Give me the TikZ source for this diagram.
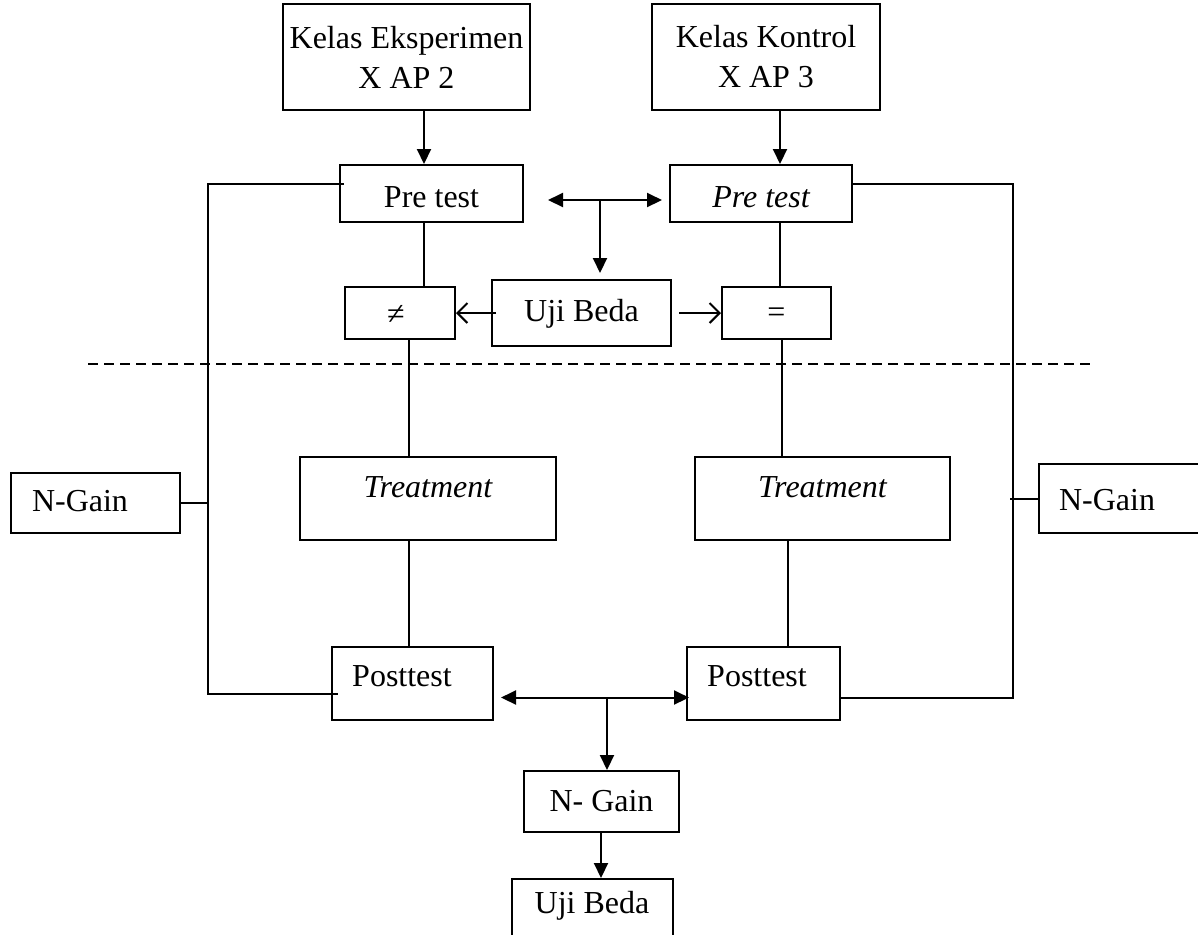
\documentclass[tikz,border=0pt]{standalone}
\usepackage{fontspec}
\setmainfont{Liberation Serif}
\usetikzlibrary{arrows.meta,fit,calc}
\begin{document}
\begin{tikzpicture}[x=0.5pt,y=-0.5pt,
  every node/.style={font=\fontsize{16}{20}\selectfont},
  box/.style={draw,line width=1pt,inner sep=0pt,rectangle},
  ln/.style={line width=1pt},
  arr/.style={line width=1pt,-{Triangle[length=7.5pt,width=7pt]}},
  darr/.style={line width=1pt,{Triangle[length=7.5pt,width=7pt]}-{Triangle[length=7.5pt,width=7pt]}},
  oarr/.style={line width=1pt,-{Straight Barb[length=5pt,width=10pt]}},
  txt/.style={inner sep=0pt,align=center}]
\useasboundingbox (0,0) rectangle (1198,934);
% top boxes
\node[box,fit={(283,4)(530,110)}] (ke) {};
\node[txt] (ket) at (ke.center) {Kelas Eksperimen\\X AP 2};
\node[box,fit={(652,4)(880,110)}] (kk) {};
\node[txt] (kkt) at (kk.center) {Kelas Kontrol\\X AP 3};
% pre tests
\node[box,fit={(340,165)(523,222)}] (ptl) {};
\node[txt] (ptlt) at ($(ptl.center)+(0,4)$) {Pre test};
\node[box,fit={(670,165)(852,222)}] (ptr) {};
\node[txt] (ptrt) at ($(ptr.center)+(0,4)$) {\itshape Pre test};
% uji beda middle
\node[box,fit={(492,280)(671,346)}] (ub) {};
\node[txt] (ubt) at ($(ub.center)+(0,1)$) {Uji Beda};
\node[box,fit={(345,287)(455,339)}] (ne) {};
\node[txt] (net) at ($(ne.center)+(-4,2)$) {≠};
\node[box,fit={(722,287)(831,339)}] (eq) {};
\node[txt] (eqt) at ($(eq.center)+(0,2)$) {=};
% treatments
\node[box,fit={(300,457)(556,540)}] (trl) {};
\node[txt] (trlt) at ($(trl.center)+(0,-11)$) {\itshape Treatment};
\node[box,fit={(695,457)(950,540)}] (trr) {};
\node[txt] (trrt) at ($(trr.center)+(0,-11)$) {\itshape Treatment};
% posttests
\node[box,fit={(332,647)(493,720)}] (pol) {};
\node[txt] (polt) at (402,676) {Posttest};
\node[box,fit={(687,647)(840,720)}] (por) {};
\node[txt] (port) at (757,676) {Posttest};
% N-Gain side boxes
\node[box,fit={(11,473)(180,533)}] (ngl) {};
\node[txt] (nglt) at (80,501) {N-Gain};
\node[box,fit={(1039,464)(1205,533)}] (ngr) {};
\node[txt] (ngrt) at (1107,500) {N-Gain};
% bottom
\node[box,fit={(524,771)(679,832)}] (ng) {};
\node[txt] (ngt) at ($(ng.center)+(0,0)$) {N- Gain};
\node[box,fit={(512,879)(673,945)}] (ubb) {};
\node[txt] (ubbt) at (592,906) {Uji Beda};

% arrows from top boxes
\draw[arr] (ke.south -| 424,0) -- (ptl.north -| 424,0);
\draw[arr] (kk.south -| 780,0) -- (ptr.north -| 780,0);
% top double arrow + branch
\coordinate (da1) at (548,200);
\coordinate (da2) at (662,200);
\coordinate (dam) at (600,200);
\draw[darr] (da1) -- (da2);
\draw[arr] (dam) -- ($(ub.north -| dam)+(0,-6)$);
% pretest to result boxes
\draw[ln] (ptl.south -| 424,0) -- (ne.north -| 424,0);
\draw[ln] (ptr.south -| 780,0) -- (eq.north -| 780,0);
% uji beda to results
\draw[oarr] ($(ub.west)+(5,0)$) -- (ne.east);
\draw[oarr] ($(ub.east)+(7,0)$) -- (eq.west);
% dashed separator
\coordinate (dl) at (88,364);
\coordinate (dr) at (1090,364);
\draw[line width=0.8pt,dash pattern=on 5pt off 3pt] (dl) -- (dr);
% result to treatment
\draw[ln] (ne.south -| 409,0) -- (trl.north -| 409,0);
\draw[ln] (eq.south -| 782,0) -- (trr.north -| 782,0);
% treatment to posttest
\draw[ln] (trl.south -| 409,0) -- (pol.north -| 409,0);
\draw[ln] (trr.south -| 788,0) -- (por.north -| 788,0);
% left bracket
\draw[ln] ($(ptl.west)+(5,-10)$) -- ($(ptl.west -| 208,0)+(0,-10)$) -- ($(pol.west -| 208,0)+(0,10)$) -- ($(pol.west)+(7,10)$);
\draw[ln] (ngl.east) -- (ngl.east -| 208,0);
% right bracket
\draw[ln] ($(ptr.east)+(0,-10)$) -- ($(ptr.east -| 1013,0)+(0,-10)$) -- ($(por.east -| 1013,0)+(0,14)$) -- ($(por.east)+(0,14)$);
\draw[ln] (ngr.west |- 0,499) -- (1010,499);
% bottom double arrow + branches
\coordinate (pm) at (607,698);
\draw[darr] ($(pol.east)+(7,14)$) -- ($(por.west)+(3,14)$);
\draw[arr] (pm) -- (ng.north -| pm);
\draw[arr] (ng.south -| 601,0) -- (ubb.north -| 601,0);
\end{tikzpicture}
\end{document}
